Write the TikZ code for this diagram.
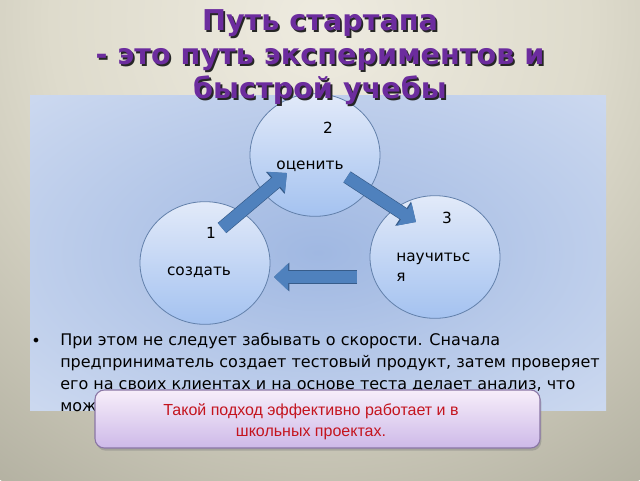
\documentclass[tikz,border=0pt]{standalone}
\usepackage{fontspec}
\setmainfont{DejaVu Sans}
\newfontfamily\notefont{Liberation Sans}
\usetikzlibrary{arrows.meta,shapes.geometric,shadows}

\definecolor{bgtop}{RGB}{238,235,224}
\definecolor{bgmid}{RGB}{222,219,204}
\definecolor{bgedge}{RGB}{158,156,140}
\definecolor{paneinner}{RGB}{160,184,226}
\definecolor{paneside}{RGB}{222,230,245}
\definecolor{paneouter}{RGB}{234,239,249}
\definecolor{titlepurple}{RGB}{108,44,158}
\definecolor{ballhi}{RGB}{226,234,249}
\definecolor{balllo}{RGB}{164,194,240}
\definecolor{balledge}{RGB}{98,128,170}
\definecolor{flowfill}{RGB}{79,129,189}
\definecolor{flowedge}{RGB}{55,92,138}
\definecolor{notetop}{RGB}{247,238,250}
\definecolor{notebot}{RGB}{205,185,232}
\definecolor{noteedge}{RGB}{138,118,165}
\definecolor{notered}{RGB}{196,20,30}

\pgfdeclareradialshading{backglow}{\pgfpointorigin}{color(0bp)=(bgtop); color(12bp)=(bgmid); color(32bp)=(bgedge); color(75bp)=(bgedge)}
\pgfdeclareradialshading{paneglow}{\pgfpointorigin}{color(0bp)=(paneinner); color(50bp)=(paneside); color(75bp)=(paneouter)}

\tikzset{
  ball/.style={ellipse, draw=balledge, line width=0.6pt, top color=ballhi, bottom color=balllo,
    minimum width=97.5pt, minimum height=92pt, inner sep=0pt},
  ballnote/.style={font=\fontsize{11.5}{14}\selectfont, inner sep=0pt},
  flow/.style={draw=flowfill, line width=9pt, -{Triangle[length=10.5pt, width=19.5pt]},
    preaction={draw=flowedge, line width=10pt, -{Triangle[length=11.5pt, width=21pt]}}},
  headline/.style={font=\fontsize{21.5}{25.5}\selectfont\bfseries, align=center, inner sep=0pt},
  note/.style={rounded corners=7pt, draw=noteedge, line width=0.8pt, top color=notetop, bottom color=notebot,
    minimum width=333.75pt, minimum height=43.5pt,
    drop shadow={opacity=0.45, shadow xshift=1pt, shadow yshift=-2pt}},
  notetext/.style={align=center, text=notered, inner sep=0pt, font=\notefont\fontsize{12}{15.5}\selectfont}
}

\begin{document}
\begin{tikzpicture}[x=0.75pt,y=-0.75pt]
\useasboundingbox (0,0) rectangle (640,480);
% backdrop
\begin{scope}
\clip (0,0) rectangle (640,480);
\shade[shading=backglow] (320,20) circle (560);
\end{scope}
\shade[shading=paneglow] (30,95) rectangle (606,410);

% cycle
\node[ball] (c2) at (315,155) {};
\node[ball] (c1) at (205,263) {};
\node[ball] (c3) at (435,257) {};

\coordinate (f1a) at (222,228);
\coordinate (f1b) at (287,173);
\coordinate (f2a) at (347,177);
\coordinate (f2b) at (416,222);
\coordinate (f3a) at (357,277);
\coordinate (f3b) at (274,277);
\draw[flow] (f1a) -- (f1b);
\draw[flow] (f2a) -- (f2b);
\draw[flow] (f3a) -- (f3b);

\node[ballnote] (n2) at (328,128) {2};
\node[ballnote] (t2) at (310,166) {оценить};
\node[ballnote] (n1) at (211,233) {1};
\node[ballnote] (t1) at (199,272) {создать};
\node[ballnote] (n3) at (447,218) {3};
\node[ballnote, anchor=west, align=left, font=\fontsize{11.5}{15}\selectfont] (t3) at (396,267) {научитьс\\я};

% bullet
\node[font=\fontsize{12}{16.5}\selectfont, inner sep=0pt] (dot) at (36,342) {•};
\node[font=\fontsize{12}{16.5}\selectfont, inner sep=0pt, anchor=north west, align=left] (body) at (60,333)
  {При этом не следует забывать о скорости. Сначала\\
   предприниматель создает тестовый продукт, затем проверяет\\
   его на своих клиентах и на основе теста делает анализ, что\\
   мож};

% callout
\node[note] (tip) at (317.5,419) {};
\node[notetext] (tiptext) at (311,422) {Такой подход эффективно работает и в\\школьных проектах.};

% title
\node[headline, text=black!85] (headshade) at (321.8,58.8) {Путь стартапа\\- это путь экспериментов и\\быстрой учебы};
\node[headline, text=titlepurple] (head) at (320,57) {Путь стартапа\\- это путь экспериментов и\\быстрой учебы};
\end{tikzpicture}
\end{document}
